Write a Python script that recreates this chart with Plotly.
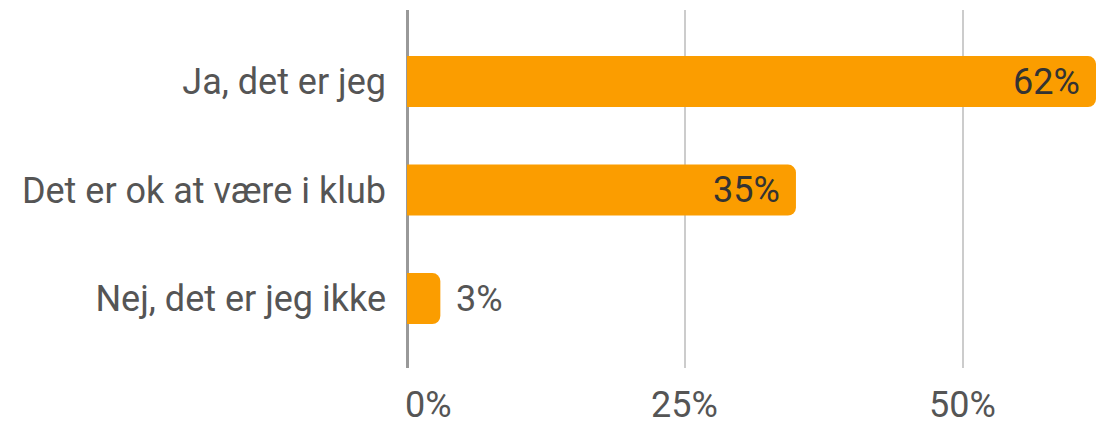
import plotly.graph_objects as go

# Survey answers and their shares (percent)
categories = ["Ja, det er jeg", "Det er ok at være i klub", "Nej, det er jeg ikke"]
shares = [62, 35, 3]
tick_values = [0, 25, 50]
tick_labels = ["0%", "25%", "50%"]

BAR_COLOR = "#FB9D00"
TEXT_COLOR = "#555555"
FONT = "Roboto, Arial, sans-serif"
FONT_SIZE = 36

positions = list(range(len(categories)))

fig = go.Figure(
    go.Bar(
        x=shares,
        y=positions,
        orientation="h",
        width=0.47,
        marker=dict(color=BAR_COLOR, cornerradius=8, line=dict(width=0)),
        hoverinfo="skip",
    )
)

# Value labels: inside the bar end for long bars, just outside for short ones
for pos, val in zip(positions, shares):
    inside = val >= 10
    fig.add_annotation(
        x=val,
        y=pos,
        xref="x",
        yref="y",
        text=f"{val}%",
        showarrow=False,
        xanchor="right" if inside else "left",
        xshift=-14 if inside else 14,
        font=dict(family=FONT, size=FONT_SIZE, color="#333333" if inside else TEXT_COLOR),
    )

# Percent labels under the grid; the first one starts at the zero line
for tv, tl in zip(tick_values, tick_labels):
    fig.add_annotation(
        x=tv,
        y=0,
        xref="x",
        yref="paper",
        text=tl,
        showarrow=False,
        xanchor="left" if tv == 0 else "center",
        yanchor="middle",
        xshift=-4 if tv == 0 else 0,
        yshift=-37,
        font=dict(family=FONT, size=FONT_SIZE, color=TEXT_COLOR),
    )

fig.update_layout(
    width=1096,
    height=423,
    margin=dict(l=407, r=0, t=10, b=55),
    paper_bgcolor="white",
    plot_bgcolor="white",
    showlegend=False,
    font=dict(family=FONT, size=FONT_SIZE, color=TEXT_COLOR),
    xaxis=dict(
        range=[0, 62],
        tickvals=tick_values,
        showticklabels=False,
        showgrid=True,
        gridcolor="#CCCCCC",
        gridwidth=2,
        zeroline=True,
        zerolinecolor="#999999",
        zerolinewidth=3,
        showline=False,
        ticks="",
        fixedrange=True,
    ),
    yaxis=dict(
        range=[2.64, -0.66],
        tickvals=positions,
        ticktext=categories,
        showgrid=False,
        zeroline=False,
        showline=False,
        ticks="",
        ticklabelstandoff=20,
        fixedrange=True,
    ),
)

fig.write_html("out.html")
